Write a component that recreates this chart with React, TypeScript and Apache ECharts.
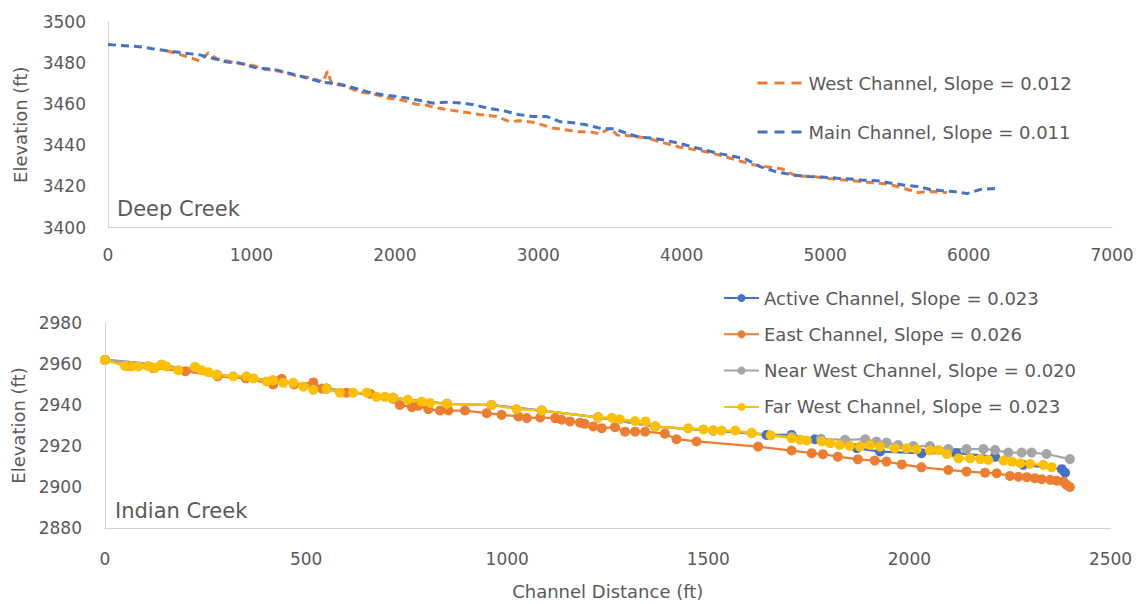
import React, { useEffect, useRef } from "react";
import * as echarts from "echarts";

// ---------- Deep Creek (top) ----------
const westChannel: number[][] = [
  [410, 3486], [560, 3483], [640, 3481], [700, 3485], [760, 3482], [830, 3481], [900, 3480], [1000, 3479],
  [1100, 3477], [1200, 3476], [1300, 3474], [1400, 3473], [1500, 3471], [1530, 3476], [1560, 3470], [1650, 3469],
  [1750, 3466], [1850, 3465], [1950, 3463], [2050, 3462], [2150, 3460], [2220, 3459.5], [2310, 3458], [2400, 3457],
  [2500, 3456], [2590, 3455], [2710, 3454], [2800, 3451.5], [2870, 3452], [2980, 3451], [3100, 3448.4], [3200, 3447.4],
  [3280, 3446.6], [3360, 3446.6], [3430, 3445.5], [3500, 3448.4], [3550, 3445], [3660, 3444.5], [3760, 3443.5],
  [3850, 3441.7], [3990, 3439], [4110, 3437.7], [4200, 3436.4], [4300, 3434.5], [4400, 3432.5], [4500, 3430.5],
  [4600, 3429.5], [4700, 3428.5], [4800, 3425], [4900, 3425], [5000, 3424], [5150, 3423], [5300, 3422], [5450, 3421],
  [5550, 3419], [5650, 3417], [5750, 3417.5], [5850, 3417],
];
const mainChannel: number[][] = [
  [0, 3489], [220, 3488], [310, 3487], [410, 3486], [520, 3485], [640, 3484], [750, 3482], [830, 3480.5], [920, 3480],
  [1040, 3477.5], [1150, 3477], [1270, 3475], [1390, 3472.7], [1490, 3470.7], [1600, 3470], [1710, 3468], [1810, 3466],
  [1920, 3464.5], [2040, 3463.5], [2160, 3462], [2270, 3460.5], [2350, 3461], [2480, 3460.5], [2560, 3459.6],
  [2650, 3458], [2760, 3456.8], [2860, 3455], [2960, 3454], [3060, 3454], [3150, 3451.5], [3240, 3451], [3330, 3450],
  [3450, 3448], [3530, 3448], [3610, 3446], [3700, 3444], [3790, 3443.5], [3880, 3442.5], [3980, 3441], [4090, 3439],
  [4160, 3437.7], [4260, 3436], [4350, 3434.8], [4440, 3433.5], [4547, 3429.6], [4665, 3427], [4777, 3425.6],
  [4875, 3424.8], [4979, 3424.6], [5084, 3424], [5174, 3423.6], [5265, 3423], [5363, 3422.8], [5453, 3421.7],
  [5544, 3420.7], [5642, 3420], [5732, 3418.5], [5802, 3418], [5893, 3417.5], [5990, 3416.5], [6081, 3418.5],
  [6200, 3419],
];
const topNames = ["West Channel, Slope = 0.012", "Main Channel, Slope = 0.011"];

// ---------- Indian Creek (bottom) ----------
const activeChannel: number[][] = [
  [0, 2962], [141, 2959.6], [278, 2954.7], [418, 2952], [551, 2948], [716, 2943.5], [850, 2940.6], [961, 2940],
  [1086, 2937.3], [1226, 2934], [1368, 2929.5], [1512, 2927.5], [1645, 2925.4], [1707, 2925.4], [1765, 2923.3],
  [1869, 2919], [1927, 2917.3], [2030, 2916.5], [2117, 2916.5], [2213, 2914.8], [2283, 2910.8], [2379, 2908.7],
  [2387, 2907],
];
const eastChannel: number[][] = [
  [0, 2962], [60, 2959], [120, 2958], [200, 2956.5], [280, 2954], [350, 2953], [418, 2950], [439, 2952.8],
  [470, 2950], [518, 2951], [540, 2948], [600, 2946], [660, 2945.5], [716, 2943], [733, 2940], [763, 2939],
  [779, 2939.6], [804, 2938], [833, 2937.3], [854, 2937.3], [895, 2937.3], [949, 2936], [986, 2935.2], [1028, 2934.4],
  [1049, 2933.6], [1082, 2933.9], [1119, 2933.6], [1135, 2932.8], [1156, 2932], [1181, 2931.4], [1193, 2930.8],
  [1214, 2929.5], [1235, 2928.7], [1268, 2929.2], [1293, 2927], [1318, 2927], [1343, 2927], [1392, 2926],
  [1421, 2923.3], [1471, 2922.2], [1624, 2919.7], [1707, 2917.8], [1757, 2916.5], [1785, 2916], [1822, 2914.8],
  [1872, 2913.5], [1914, 2912.9], [1943, 2912.4], [1981, 2911], [2030, 2909.6], [2097, 2908.3], [2142, 2907.5],
  [2188, 2907], [2217, 2906.7], [2250, 2905.4], [2271, 2905], [2292, 2904.8], [2312, 2904.3], [2329, 2903.8],
  [2350, 2903.5], [2366, 2903.1], [2383, 2902.6], [2391, 2901], [2399, 2900],
];
const nearWestChannel: number[][] = [
  [0, 2962], [141, 2959.6], [278, 2954.7], [418, 2952], [551, 2948], [716, 2943.5], [850, 2940.6], [961, 2940],
  [1086, 2937.3], [1226, 2934], [1368, 2929.5], [1512, 2927.5], [1608, 2926.3], [1707, 2924.5], [1780, 2923.5],
  [1840, 2923], [1890, 2923.3], [1918, 2922.2], [1943, 2921.7], [1972, 2920.5], [2010, 2920], [2051, 2920],
  [2097, 2918.5], [2142, 2918.5], [2184, 2918.5], [2213, 2918], [2246, 2916.8], [2279, 2916.8], [2304, 2916.8],
  [2341, 2916.1], [2399, 2913.6],
];
const farWestChannel: number[][] = [
  [0, 2962], [50, 2959], [66, 2958.8], [83, 2958.8], [107, 2959], [124, 2958], [141, 2959.6], [153, 2958.8],
  [182, 2957], [224, 2958.6], [240, 2957], [257, 2956], [278, 2954.7], [319, 2954], [352, 2954], [369, 2953],
  [402, 2951.5], [418, 2952], [443, 2950.8], [468, 2950.8], [493, 2949], [518, 2947.4], [551, 2948], [584, 2946],
  [617, 2946], [651, 2946], [675, 2944], [696, 2944], [716, 2943.5], [753, 2942.5], [787, 2941.7], [808, 2941],
  [850, 2940.6], [961, 2940], [1023, 2938], [1086, 2937.3], [1226, 2934], [1260, 2933.8], [1280, 2933],
  [1318, 2932.2], [1344, 2932], [1368, 2929.5], [1450, 2928.6], [1488, 2928.1], [1512, 2927.5], [1533, 2927.5],
  [1567, 2927.5], [1608, 2926.3], [1655, 2925.2], [1707, 2923.8], [1728, 2923], [1745, 2922.7], [1782, 2922.2],
  [1803, 2921.4], [1827, 2920.5], [1852, 2920], [1877, 2919.7], [1902, 2920.5], [1927, 2919.7], [1964, 2918.9],
  [1993, 2918.9], [2018, 2918.4], [2051, 2917.8], [2072, 2918], [2093, 2916.1], [2122, 2914], [2151, 2914],
  [2176, 2913.6], [2196, 2913.2], [2234, 2912.9], [2255, 2912.4], [2276, 2911.6], [2300, 2911.3], [2333, 2910.8],
  [2354, 2909.6],
];
const bottomNames = [
  "Active Channel, Slope = 0.023",
  "East Channel, Slope = 0.026",
  "Near West Channel, Slope = 0.020",
  "Far West Channel, Slope = 0.023",
];

const FONT = "DejaVu Sans";
const TEXT = "#595959";
const AXIS = "#d0d0d0";
const BLUE = "#4472C4";
const ORANGE = "#ED7D31";
const GRAY = "#A5A5A5";
const GOLD = "#FFC000";

export default function App() {
  const ref = useRef<HTMLDivElement>(null);
  useEffect(() => {
    if (!ref.current) return;
    const chart = echarts.init(ref.current, undefined, { renderer: "svg" });
    const axisLabel = (margin: number) => ({
      color: TEXT,
      fontFamily: FONT,
      fontSize: 17,
      margin,
      formatter: (v: number) => String(v),
    });
    const axisLine = { show: true, lineStyle: { color: AXIS, width: 1 } };
    const yName = (gap: number) => ({
      name: "Elevation (ft)",
      nameLocation: "middle" as const,
      nameRotate: 90,
      nameGap: gap,
      nameTextStyle: { color: TEXT, fontFamily: FONT, fontSize: 18 },
    });
    const dashed = (name: string, data: number[][], color: string) => ({
      type: "line",
      name,
      data,
      xAxisIndex: 0,
      yAxisIndex: 0,
      symbol: "none",
      color,
      lineStyle: { color, width: 3, type: [8, 5] },
    });
    const marked = (name: string, data: number[][], color: string) => ({
      type: "line",
      name,
      data,
      xAxisIndex: 1,
      yAxisIndex: 1,
      symbol: "circle",
      symbolSize: 10,
      color,
      itemStyle: { color },
      lineStyle: { color, width: 2.25 },
    });
    chart.setOption({
      animation: false,
      backgroundColor: "#ffffff",
      textStyle: { fontFamily: FONT },
      grid: [
        { left: 108, top: 22, width: 1004, height: 205.5 },
        { left: 105, top: 323, width: 1005.5, height: 205 },
      ],
      xAxis: [
        {
          type: "value", gridIndex: 0, min: 0, max: 7000, interval: 1000,
          axisLine, axisTick: { show: false }, splitLine: { show: false },
          axisLabel: axisLabel(19),
        },
        {
          type: "value", gridIndex: 1, min: 0, max: 2500, interval: 500,
          axisLine, axisTick: { show: false }, splitLine: { show: false },
          axisLabel: axisLabel(22),
          name: "Channel Distance (ft)",
          nameLocation: "middle",
          nameGap: 54,
          nameTextStyle: { color: TEXT, fontFamily: FONT, fontSize: 18 },
        },
      ],
      yAxis: [
        {
          type: "value", gridIndex: 0, min: 3400, max: 3500, interval: 20,
          axisLine, axisTick: { show: false }, splitLine: { show: false },
          axisLabel: axisLabel(22),
          ...yName(79),
        },
        {
          type: "value", gridIndex: 1, min: 2880, max: 2980, interval: 20,
          axisLine, axisTick: { show: false }, splitLine: { show: false },
          axisLabel: axisLabel(23),
          ...yName(76),
        },
      ],
      legend: [
        {
          data: topNames,
          orient: "vertical",
          left: 751,
          top: 69,
          itemWidth: 46,
          itemHeight: 14,
          itemGap: 31,
          textStyle: { color: TEXT, fontFamily: FONT, fontSize: 18 },
          itemStyle: { opacity: 0 },
          lineStyle: { type: [10, 7], width: 3 },
        },
        {
          data: bottomNames,
          orient: "vertical",
          left: 718,
          top: 284,
          itemWidth: 35,
          itemHeight: 10,
          itemGap: 18.3,
          textStyle: { color: TEXT, fontFamily: FONT, fontSize: 18 },
        },
      ],
      graphic: [
        {
          type: "text", left: 117, top: 198,
          style: { text: "Deep Creek", fill: TEXT, font: `21px "${FONT}"` },
        },
        {
          type: "text", left: 115, top: 500,
          style: { text: "Indian Creek", fill: TEXT, font: `21px "${FONT}"` },
        },
      ],
      series: [
        dashed(topNames[0], westChannel, ORANGE),
        dashed(topNames[1], mainChannel, BLUE),
        marked(bottomNames[0], activeChannel, BLUE),
        marked(bottomNames[1], eastChannel, ORANGE),
        marked(bottomNames[2], nearWestChannel, GRAY),
        marked(bottomNames[3], farWestChannel, GOLD),
      ],
    });
    return () => chart.dispose();
  }, []);
  return (
    <div
      ref={ref}
      style={{ position: "fixed", left: 0, top: 0, width: 1143, height: 604 }}
    />
  );
}
